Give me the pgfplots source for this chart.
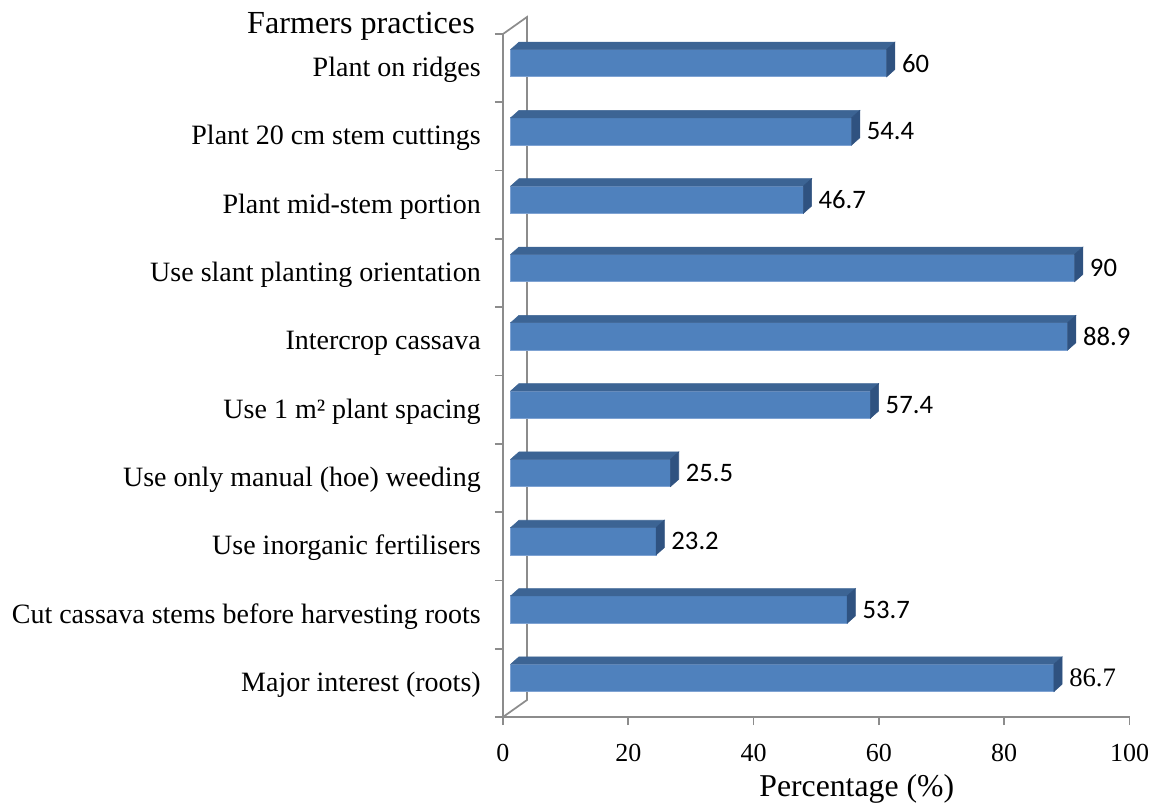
\documentclass[border=0pt]{standalone}
\usepackage{pgfplots}
\usepackage{pgfplotstable}
\pgfplotsset{compat=1.18}
\usepackage{fontspec}
\setmainfont{Liberation Serif}
\newfontfamily\valfont{Carlito}
\newfontfamily\serifval{Liberation Serif}

\definecolor{barfront}{HTML}{4F81BD}
\definecolor{baredge}{HTML}{7FA3D3}
\definecolor{bartop}{HTML}{3C6494}
\definecolor{barside}{HTML}{2F5280}
\definecolor{wall}{HTML}{8C8C8C}

% pos = category centre (0.5 = bottom row), value = percentage of farmers
\pgfplotstableread{
pos value
0.5 86.7
1.5 53.7
2.5 23.2
3.5 25.5
4.5 57.4
5.5 88.9
6.5 90
7.5 46.7
8.5 54.4
9.5 60
}\practices

\pgfdeclareplotmark{nothing}{}

\pgfplotsset{
  /pgf/number format/assume math mode=true,
  frame/.style={
    x=4.699pt, y=51.225pt,
    xmin=0, xmax=100, ymin=0, ymax=10,
    at={#1}, anchor=south west,
    clip=false,
  },
  frontbar/.style={
    xbar, bar width=20.5pt, fill=barfront, draw=baredge, line width=0.6pt,
    point meta=x,
    nodes near coords,
    nodes near coords align={horizontal},
  },
}

\begin{document}
\begin{tikzpicture}
\useasboundingbox (-377.25pt,-65.25pt) rectangle (495pt,537.75pt);

% ---- walls, axes and labels ----
\begin{axis}[
  frame={(0pt,0pt)},
  axis x line*=bottom, axis y line*=left,
  axis line style={wall, line width=1.3pt, -},
  tick align=outside,
  major tick length=6pt, minor tick length=6pt,
  xtick={0,20,...,100},
  major x tick style={wall, line width=1.3pt},
  ytick={0.5,1.5,...,9.5},
  minor ytick={0,1,...,10},
  major y tick style={draw=none},
  minor y tick style={wall, line width=1.3pt},
  yticklabels={Major interest (roots),
    Cut cassava stems before harvesting roots,
    Use inorganic fertilisers,
    Use only manual (hoe) weeding,
    Use 1 m² plant spacing,
    Intercrop cassava,
    Use slant planting orientation,
    Plant mid-stem portion,
    Plant 20 cm stem cuttings,
    Plant on ridges},
  yticklabel style={font=\fontsize{21}{24}\selectfont, anchor=east,
    inner sep=0pt, text height=0.6em, text depth=0.22em,
    xshift=-10.5pt, yshift=-4.5pt},
  xticklabel style={font=\fontsize{19.5}{22}\selectfont, inner sep=0pt, yshift=-14pt},
  xlabel={Percentage (\%)},
  xlabel style={font=\fontsize{23.8}{26}\selectfont, at={(axis description cs:0.5646,0)},
    anchor=center, yshift=-54pt},
]
\draw[wall, line width=1.3pt] (axis cs:0,0) -- ++(18pt,12.75pt) -- ++(0pt,512.25pt) -- (axis cs:0,10);
\node[anchor=east, inner sep=0pt, font=\fontsize{24.1}{26}\selectfont, xshift=-21pt, yshift=6pt]
  at (axis cs:0,10) {Farmers practices};
\end{axis}

% ---- 3-D bars, set back from the front plane ----
\begin{axis}[
  frame={(5.78pt,3.75pt)},
  hide axis,
]
% top and side faces
\addplot[scatter, only marks, mark=nothing,
  visualization depends on={x \as \vx},
  scatter/@pre marker code/.code={%
    \pgfmathsetmacro\barlen{\vx*4.699}%
    \pgfmathsetmacro\barback{6.2-\barlen}%
    \fill[bartop] (-\barlen pt,10.25pt) -- (0pt,10.25pt) -- (6.2pt,15.75pt) -- (\barback pt,15.75pt) -- cycle;
    \fill[barside] (0pt,-10.25pt) -- (0pt,10.25pt) -- (6.2pt,15.75pt) -- (6.2pt,-4.75pt) -- cycle;
  },
  scatter/@post marker code/.code={},
] table[x=value, y=pos] {\practices};
% front faces with value labels
\addplot[frontbar, skip coords between index={0}{1},
  nodes near coords style={font=\valfont\fontsize{20}{22}\selectfont,
    anchor=west, inner sep=0pt, xshift=11.25pt, black}]
  table[x=value, y=pos] {\practices};
\addplot[frontbar, skip coords between index={1}{10},
  nodes near coords style={font=\serifval\fontsize{20}{22}\selectfont,
    anchor=west, inner sep=0pt, xshift=11.25pt, black}]
  table[x=value, y=pos] {\practices};
\end{axis}
\end{tikzpicture}
\end{document}
